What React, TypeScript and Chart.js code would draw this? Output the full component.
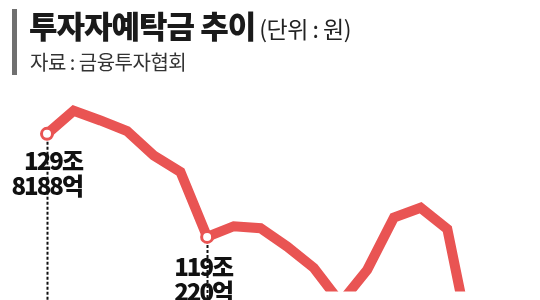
import React, { useEffect, useRef } from "react";
import { Chart, registerables } from "chart.js";

Chart.register(...registerables);

const categories: string[] = [
  "1", "2", "3", "4", "5", "6", "7", "8", "9", "10", "11", "12", "13", "14", "15", "16", "17",
];
// 투자자예탁금 (조 원)
const deposits: number[] = [
  129.82, 132.2, 131.2, 130.1, 127.6, 125.9, 119.2, 120.3, 120.1, 118.2, 116.0, 112.4, 115.8, 121.2,
  122.2, 120.0, 106.6,
];
const markedIndexes: number[] = [0, 6];
const markedLabels: string[][] = [
  ["129조", "8188억"],
  ["119조", "220억"],
];

const RED = "#E95453";
const FONT = '"Noto Sans CJK KR", "Noto Sans", sans-serif';

const annotationPlugin = {
  id: "annotations",
  beforeDatasetsDraw(chart: any) {
    const { ctx } = chart;
    const meta = chart.getDatasetMeta(0);
    ctx.save();
    ctx.strokeStyle = "#111";
    ctx.lineWidth = 2;
    ctx.setLineDash([3, 2]);
    markedIndexes.forEach((i) => {
      const p = meta.data[i];
      ctx.beginPath();
      ctx.moveTo(Math.round(p.x) + 0.5, p.y + 8);
      ctx.lineTo(Math.round(p.x) + 0.5, chart.height);
      ctx.stroke();
    });
    ctx.restore();
  },
  afterDatasetsDraw(chart: any) {
    const { ctx } = chart;
    const meta = chart.getDatasetMeta(0);
    const offsets = [
      { dx: 35, dy: 36 },
      { dx: 25, dy: 39 },
    ];
    ctx.save();
    ctx.fillStyle = "#111";
    ctx.font = `900 24px ${FONT}`;
    (ctx as any).letterSpacing = "-2px";
    ctx.textAlign = "right";
    ctx.textBaseline = "alphabetic";
    markedIndexes.forEach((idx, k) => {
      const p = meta.data[idx];
      const o = offsets[k];
      markedLabels[k].forEach((line, j) => {
        ctx.fillText(line, p.x + o.dx, p.y + o.dy + j * 25);
      });
    });
    ctx.restore();
  },
};

function DepositChart() {
  const ref = useRef<HTMLCanvasElement | null>(null);
  useEffect(() => {
    if (!ref.current) return;
    const radii = deposits.map((_, i) => (markedIndexes.includes(i) ? 5.5 : 0));
    const chart = new Chart(ref.current, {
      type: "line",
      data: {
        labels: categories,
        datasets: [
          {
            data: deposits,
            borderColor: RED,
            borderWidth: 10,
            borderJoinStyle: "miter",
            tension: 0,
            pointRadius: radii,
            pointBackgroundColor: "#fff",
            pointBorderColor: RED,
            pointBorderWidth: 3,
          },
        ],
      },
      options: {
        responsive: false,
        animation: false,
        devicePixelRatio: 1,
        layout: { padding: { left: 47, right: 66, top: 80, bottom: 0 } },
        scales: {
          x: { display: false, offset: false },
          y: { display: false, min: 113.57, max: 135.37 },
        },
        plugins: {
          legend: { display: false },
          tooltip: { enabled: false },
        },
      },
      plugins: [annotationPlugin],
    });
    return () => chart.destroy();
  }, []);
  return <canvas ref={ref} width={540} height={300} style={{ position: "absolute", left: 0, top: 0 }} />;
}

export default function App() {
  return (
    <div
      style={{
        position: "fixed",
        left: 0,
        top: 0,
        width: 540,
        height: 300,
        background: "#fff",
        overflow: "hidden",
        fontFamily: FONT,
      }}
    >
      <DepositChart />
      <div style={{ position: "absolute", left: 12, top: 9, width: 5, height: 66, background: "#707070" }} />
      <div
        style={{
          position: "absolute",
          left: 29,
          top: 9,
          whiteSpace: "nowrap",
          lineHeight: "31px",
          color: "#1a1a1a",
        }}
      >
        <span style={{ fontSize: 31, fontWeight: 900, letterSpacing: -1 }}>투자자예탁금 추이</span>
        <span style={{ fontSize: 23, fontWeight: 400, letterSpacing: -0.5, marginLeft: 4, color: "#222" }}>
          (단위 : 원)
        </span>
      </div>
      <div
        style={{
          position: "absolute",
          left: 30,
          top: 52,
          whiteSpace: "nowrap",
          lineHeight: "20px",
          fontSize: 20,
          letterSpacing: -0.5,
          color: "#333",
        }}
      >
        자료 : 금융투자협회
      </div>
    </div>
  );
}
